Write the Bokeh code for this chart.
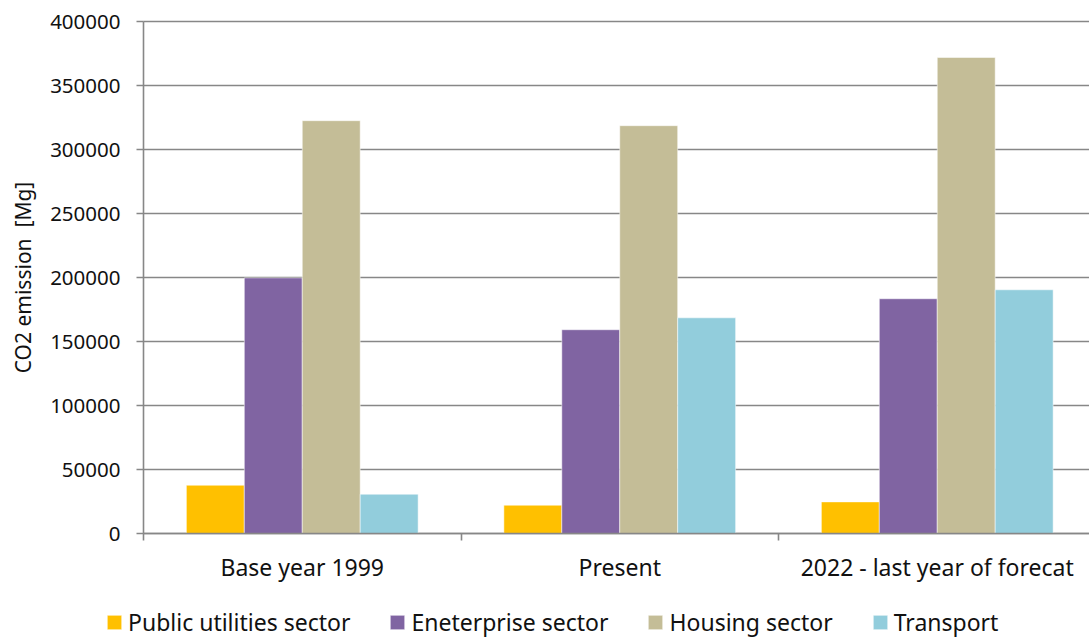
from bokeh.plotting import figure
from bokeh.models import (ColumnDataSource, FixedTicker, NumeralTickFormatter,
                          Legend, LegendItem, Range1d)
from bokeh.transform import dodge
from bokeh.embed import file_html
from bokeh.resources import INLINE

categories = ["Base year 1999", "Present", "2022 - last year of forecat"]
series_names = ["Public utilities sector", "Eneterprise sector", "Housing sector", "Transport"]
public_utilities = [37700, 22100, 24700]
enterprise = [199700, 159200, 183400]
housing = [322500, 318600, 371900]
transport = [30700, 168500, 190400]
colors = ["#FFC000", "#8064A2", "#C4BD97", "#92CDDC"]
y_ticks = [0, 50000, 100000, 150000, 200000, 250000, 300000, 350000, 400000]

FONT = "Noto Sans"
TXT = "#111111"
GRID = "#878787"

W, H = 1089, 639
LEFT, TOP, BOTTOM = 143, 21, 533     # pixel positions of x=0, y=max, y=0
CAT_PX = 317.5                        # pixels per category
Y_MAX = 400000
px_per_y = (BOTTOM - TOP) / Y_MAX

n_cat = len(categories)
centers = [i + 0.5 for i in range(n_cat)]
source = ColumnDataSource(data=dict(
    x=centers,
    s0=public_utilities, s1=enterprise, s2=housing, s3=transport,
))

p = figure(width=W, height=H, output_backend="svg", toolbar_location=None,
           x_range=Range1d(-LEFT / CAT_PX, (W - LEFT) / CAT_PX),
           y_range=Range1d(-(H - BOTTOM) / px_per_y, Y_MAX + TOP / px_per_y),
           min_border=0)
p.outline_line_color = None
p.background_fill_color = "white"
p.grid.visible = False

# horizontal grid lines
p.segment(x0=0, x1=n_cat, y0=y_ticks, y1=y_ticks, line_color=GRID,
          line_width=1.6, level="underlay")

bw = 0.1825
offsets = [-1.5 * bw, -0.5 * bw, 0.5 * bw, 1.5 * bw]
renderers = []
for i, (name, col) in enumerate(zip(series_names, colors)):
    r = p.vbar(x=dodge("x", offsets[i], range=p.x_range), top="s%d" % i, width=bw,
               source=source, fill_color=col, line_color="white", line_alpha=0.5,
               line_width=1)
    renderers.append(r)

# y axis
ya = p.yaxis[0]
ya.fixed_location = 0
ya.bounds = (0, Y_MAX)
ya.ticker = FixedTicker(ticks=y_ticks)
ya.formatter = NumeralTickFormatter(format="0")
ya.axis_line_color = GRID
ya.axis_line_width = 1.6
ya.major_tick_line_color = GRID
ya.major_tick_line_width = 1.6
ya.major_tick_out = 7
ya.major_tick_in = 0
ya.minor_tick_line_color = None
ya.major_label_standoff = 16
ya.major_label_text_font = FONT
ya.major_label_text_font_size = "20.5px"
ya.major_label_text_color = TXT
ya.axis_label = "CO2 emission\u00a0 [Mg]"
ya.axis_label_text_font = FONT
ya.axis_label_text_font_size = "21px"
ya.axis_label_text_font_style = "normal"
ya.axis_label_text_color = TXT
ya.axis_label_standoff = 10

# x axis
xa = p.xaxis[0]
xa.fixed_location = 0
xa.bounds = (0, n_cat)
xa.ticker = FixedTicker(ticks=centers, minor_ticks=list(range(n_cat + 1)))
xa.major_label_overrides = {c: lab for c, lab in zip(centers, categories)}
xa.axis_line_color = GRID
xa.axis_line_width = 1.6
xa.major_tick_line_color = None
xa.major_tick_out = 0
xa.major_tick_in = 0
xa.minor_tick_line_color = GRID
xa.minor_tick_line_width = 1.6
xa.minor_tick_out = 7
xa.minor_tick_in = 0
xa.major_label_standoff = 10
xa.major_label_text_font = FONT
xa.major_label_text_font_size = "23px"
xa.major_label_text_color = TXT

legend = Legend(items=[LegendItem(label=n, renderers=[r])
                       for n, r in zip(series_names, renderers)],
                orientation="horizontal", location=(105, 1),
                glyph_width=18, glyph_height=18, label_standoff=5, spacing=38,
                padding=0, margin=0, border_line_color=None,
                background_fill_alpha=0, label_text_font=FONT,
                label_text_font_size="23px", label_text_color=TXT)
p.add_layout(legend, "center")

open("out.html", "w").write(file_html(p, INLINE))
